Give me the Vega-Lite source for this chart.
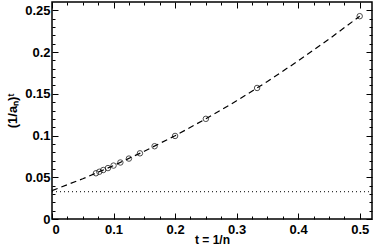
{
  "$schema": "https://vega.github.io/schema/vega-lite/v6.json",
  "width": 320,
  "height": 217,
  "autosize": {"type": "none"},
  "padding": {"left": 52, "top": 2, "right": 2, "bottom": 27},
  "background": "white",
  "config": {
    "view": {"stroke": "black", "strokeWidth": 1.5},
    "axis": {
      "labelFont": "Liberation Sans",
      "labelFontWeight": "bold",
      "labelFontSize": 13,
      "labelColor": "black",
      "titleFont": "Liberation Sans",
      "titleFontWeight": "bold",
      "titleFontSize": 12,
      "titleColor": "black",
      "tickColor": "black",
      "domain": false,
      "grid": false
    }
  },
  "datasets": {
    "pts": [
      {"n": 2, "t": 0.5, "v": 0.243},
      {"n": 3, "t": 0.3333, "v": 0.157},
      {"n": 4, "t": 0.25, "v": 0.12},
      {"n": 5, "t": 0.2, "v": 0.0995},
      {"n": 6, "t": 0.1667, "v": 0.0872},
      {"n": 7, "t": 0.1429, "v": 0.0787},
      {"n": 8, "t": 0.125, "v": 0.0724},
      {"n": 9, "t": 0.1111, "v": 0.0677},
      {"n": 10, "t": 0.1, "v": 0.064},
      {"n": 11, "t": 0.0909, "v": 0.061},
      {"n": 12, "t": 0.0833, "v": 0.0587},
      {"n": 13, "t": 0.0769, "v": 0.0566},
      {"n": 14, "t": 0.0714, "v": 0.0548}
    ],
    "fit": [
      {"t": 0, "v": 0.034},
      {"t": 0.05, "v": 0.0482},
      {"t": 0.1, "v": 0.064},
      {"t": 0.15, "v": 0.0812},
      {"t": 0.2, "v": 0.0998},
      {"t": 0.25, "v": 0.12},
      {"t": 0.3, "v": 0.1416},
      {"t": 0.35, "v": 0.1648},
      {"t": 0.4, "v": 0.1894},
      {"t": 0.45, "v": 0.2154},
      {"t": 0.5, "v": 0.243}
    ],
    "lim": [
      {"t": 0, "v": 0.0327},
      {"t": 0.515, "v": 0.0327}
    ]
  },
  "resolve": {"axis": {"x": "independent", "y": "independent"}},
  "layer": [
    {
      "data": {"name": "fit"},
      "mark": {"type": "line", "color": "black", "strokeWidth": 1.2, "strokeDash": [6, 4]},
      "encoding": {
        "x": {"field": "t", "type": "quantitative", "scale": {"domain": [0, 0.52], "nice": false},
          "axis": {"orient": "bottom", "values": [0, 0.1, 0.2, 0.3, 0.4, 0.5], "tickSize": -6, "labelPadding": 10, "labelExpr": "datum.value == 0 ? '0' : format(datum.value, '.1f')", "title": "t = 1/n", "titleY": 24, "titleBaseline": "alphabetic"}},
        "y": {"field": "v", "type": "quantitative", "scale": {"domain": [0, 0.26], "nice": false},
          "axis": {"orient": "left", "values": [0, 0.05, 0.1, 0.15, 0.2, 0.25], "tickSize": -6, "labelPadding": 8, "labelExpr": "datum.value == 0 ? '0' : format(datum.value, '~g')", "title": "(1/aₙ)ᵗ", "titleFontSize": 13, "titleX": -40, "titleBaseline": "middle"}}
      }
    },
    {
      "data": {"name": "pts"},
      "mark": {"type": "point", "shape": "circle", "filled": false, "color": "black", "size": 30, "strokeWidth": 1},
      "encoding": {
        "x": {"field": "t", "type": "quantitative",
          "axis": {"orient": "bottom", "values": [0.025, 0.05, 0.075, 0.125, 0.15, 0.175, 0.225, 0.25, 0.275, 0.325, 0.35, 0.375, 0.425, 0.45, 0.475], "tickSize": -3, "labels": false, "title": null}},
        "y": {"field": "v", "type": "quantitative",
          "axis": {"orient": "left", "values": [0.01, 0.02, 0.03, 0.04, 0.06, 0.07, 0.08, 0.09, 0.11, 0.12, 0.13, 0.14, 0.16, 0.17, 0.18, 0.19, 0.21, 0.22, 0.23, 0.24], "tickSize": -3, "labels": false, "title": null}}
      }
    },
    {
      "data": {"name": "lim"},
      "mark": {"type": "line", "color": "black", "strokeWidth": 1, "strokeDash": [1, 3]},
      "encoding": {
        "x": {"field": "t", "type": "quantitative",
          "axis": {"orient": "top", "values": [0, 0.1, 0.2, 0.3, 0.4, 0.5], "tickSize": -6, "labels": false, "title": null}},
        "y": {"field": "v", "type": "quantitative",
          "axis": {"orient": "right", "values": [0, 0.05, 0.1, 0.15, 0.2, 0.25], "tickSize": -6, "labels": false, "title": null}}
      }
    },
    {
      "data": {"name": "lim"},
      "mark": {"type": "point", "opacity": 0},
      "encoding": {
        "x": {"field": "t", "type": "quantitative",
          "axis": {"orient": "top", "values": [0.025, 0.05, 0.075, 0.125, 0.15, 0.175, 0.225, 0.25, 0.275, 0.325, 0.35, 0.375, 0.425, 0.45, 0.475], "tickSize": -3, "labels": false, "title": null}},
        "y": {"field": "v", "type": "quantitative",
          "axis": {"orient": "right", "values": [0.01, 0.02, 0.03, 0.04, 0.06, 0.07, 0.08, 0.09, 0.11, 0.12, 0.13, 0.14, 0.16, 0.17, 0.18, 0.19, 0.21, 0.22, 0.23, 0.24], "tickSize": -3, "labels": false, "title": null}}
      }
    }
  ]
}
